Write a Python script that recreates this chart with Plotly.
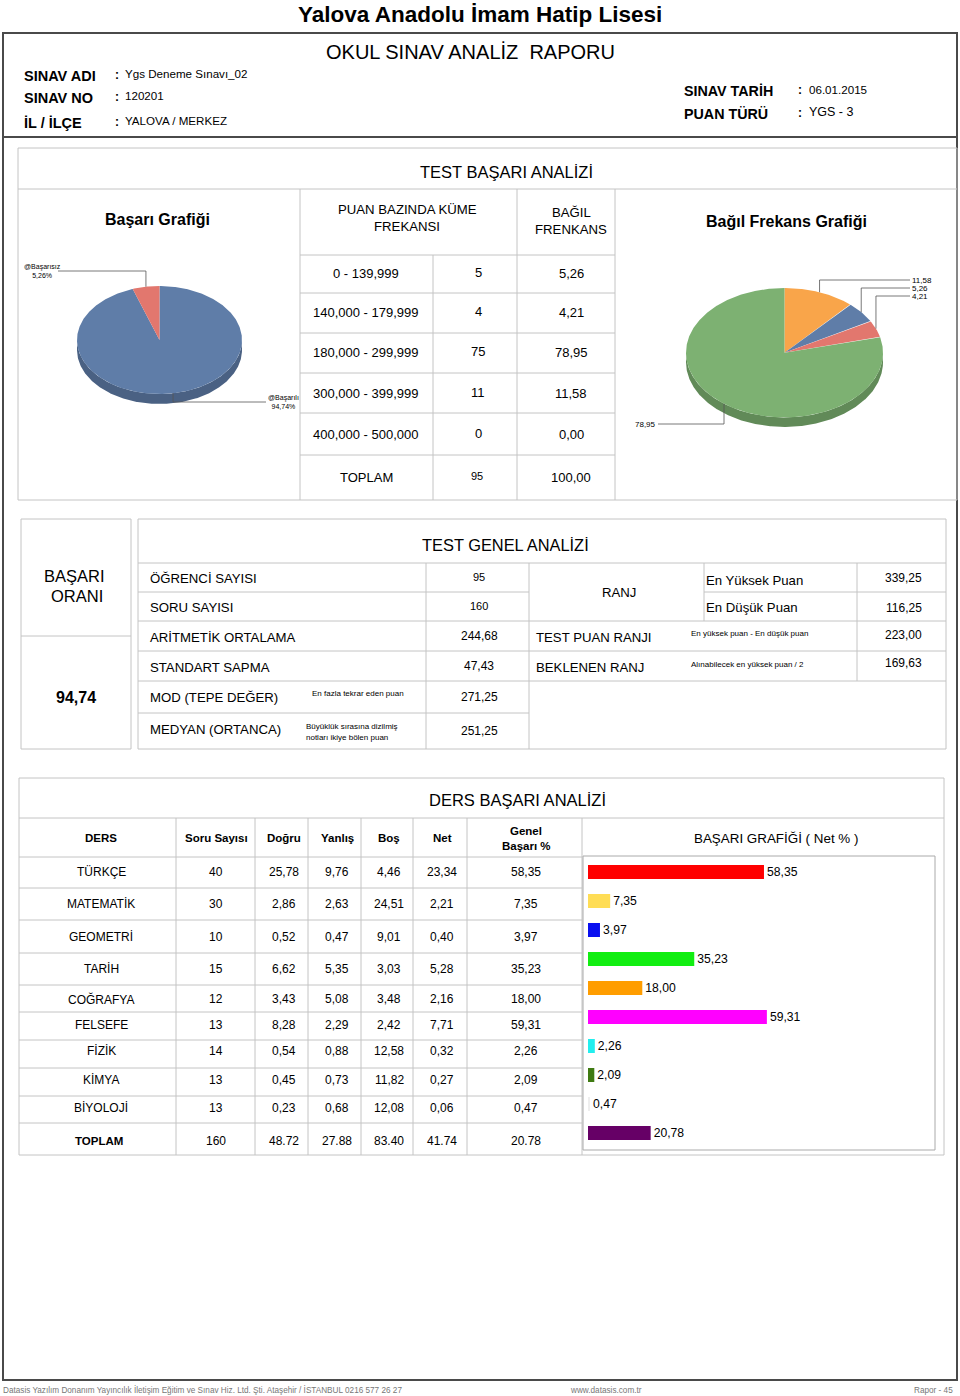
import math
import plotly.graph_objects as go

# ---------------- DATA ----------------
okul = "Yalova Anadolu İmam Hatip Lisesi"
rapor = "OKUL SINAV ANALİZ  RAPORU"
sinav_adi = "Ygs Deneme Sınavı_02"
sinav_no = "120201"
il_ilce = "YALOVA / MERKEZ"
sinav_tarih = "06.01.2015"
puan_turu = "YGS - 3"

basari_etiket = ["@Başarılı", "@Başarısız"]
basari_yuzde = [94.74, 5.26]
basari_renk = ["#5F7DA8", "#E2776E"]

araliklar = ["0 - 139,999", "140,000 - 179,999", "180,000 - 299,999",
             "300,000 - 399,999", "400,000 - 500,000"]
frekans = [5, 4, 75, 11, 0]
bagil = [5.26, 4.21, 78.95, 11.58, 0.00]
frekans_toplam = 95
bagil_toplam = 100.00
aralik_renk = ["#5F7DA8", "#E2776E", "#7DB172", "#F9A54A", "#8064A2"]
pie_sira = [3, 0, 1, 2]  # slice order clockwise from 12 o'clock

genel_etiket = ["ÖĞRENCİ SAYISI", "SORU SAYISI", "ARİTMETİK ORTALAMA",
                "STANDART SAPMA", "MOD (TEPE DEĞER)", "MEDYAN (ORTANCA)"]
genel_deger = ["95", "160", "244,68", "47,43", "271,25", "251,25"]
basari_orani = "94,74"
en_yuksek = "339,25"
en_dusuk = "116,25"
test_puan_ranji = "223,00"
beklenen_ranj = "169,63"

dersler = ["TÜRKÇE", "MATEMATİK", "GEOMETRİ", "TARİH", "COĞRAFYA",
           "FELSEFE", "FİZİK", "KİMYA", "BİYOLOJİ"]
soru = [40, 30, 10, 15, 12, 13, 14, 13, 13]
dogru = [25.78, 2.86, 0.52, 6.62, 3.43, 8.28, 0.54, 0.45, 0.23]
yanlis = [9.76, 2.63, 0.47, 5.35, 5.08, 2.29, 0.88, 0.73, 0.68]
bos = [4.46, 24.51, 9.01, 3.03, 3.48, 2.42, 12.58, 11.82, 12.08]
net = [23.34, 2.21, 0.40, 5.28, 2.16, 7.71, 0.32, 0.27, 0.06]
genel_basari = [58.35, 7.35, 3.97, 35.23, 18.00, 59.31, 2.26, 2.09, 0.47]
toplam_satir = ["160", "48.72", "27.88", "83.40", "41.74", "20.78"]
toplam_basari = 20.78
bar_renk = ["#FF0000", "#FFDD55", "#0A10F0", "#11EE11", "#FF9D00",
            "#FF00FF", "#22EEEE", "#3F7A12", "#EEEEEE", "#660066"]

# ---------------- HELPERS ----------------
FONT = "Liberation Sans, Arial, sans-serif"
W, H = 960, 1396
fig = go.Figure()
shapes = []
annots = []


def tr(v):
    return f"{v:.2f}".replace(".", ",")


def line(x0, y0, x1, y1, color="#C4C4C4", width=1):
    shapes.append(dict(type="line", xref="x2", yref="y2", x0=x0, y0=y0, x1=x1, y1=y1,
                       line=dict(color=color, width=width)))


def rect(x0, y0, x1, y1, color="#C4C4C4", width=1):
    shapes.append(dict(type="rect", xref="x2", yref="y2", x0=x0, y0=y0, x1=x1, y1=y1,
                       line=dict(color=color, width=width), fillcolor="rgba(0,0,0,0)"))


def txt(x, y, s, size=13, bold=False, anchor="center", color="#000"):
    if anchor == "left":
        x -= 2
    elif anchor == "right":
        x += 2
    annots.append(dict(xref="x2", yref="y2", x=x, y=y, text=s, showarrow=False,
                       xanchor=anchor, yanchor="middle",
                       font=dict(family=FONT, size=size, color=color,
                                 weight="bold" if bold else "normal")))


def darker(hexc, f=0.78):
    h = hexc.lstrip("#")
    r, g, b = (int(h[i:i + 2], 16) for i in (0, 2, 4))
    return f"rgb({int(r * f)},{int(g * f)},{int(b * f)})"


def ellipse_pie(cx, cy, rx, ry, depth, values, colors):
    total = sum(values)
    cum = 0
    mids = []
    spans = []
    for v in values:
        a0 = 90 - 360 * cum / total
        cum += v
        a1 = 90 - 360 * cum / total
        spans.append((a0, a1))
        mids.append((a0 + a1) / 2)
    # side band (visible lower half)
    for (a0, a1), c in zip(spans, colors):
        n = max(int(abs(a0 - a1)), 2) * 2
        ts = [a0 + (a1 - a0) * k / n for k in range(n + 1)]
        runs, cur = [], []
        for t in ts:
            if math.sin(math.radians(t)) <= 0.0001:
                cur.append(t)
            elif cur:
                runs.append(cur)
                cur = []
        if cur:
            runs.append(cur)
        for r in runs:
            if len(r) < 2:
                continue
            xs = [cx + rx * math.cos(math.radians(t)) for t in r]
            ys = [cy - ry * math.sin(math.radians(t)) for t in r]
            xs2 = xs[::-1]
            ys2 = [y + depth for y in ys[::-1]]
            fig.add_trace(go.Scatter(x=xs + xs2 + [xs[0]], y=ys + ys2 + [ys[0]],
                                     xaxis="x2", yaxis="y2", mode="lines",
                                     fill="toself", fillcolor=darker(c),
                                     line=dict(width=0), hoverinfo="skip",
                                     showlegend=False))
    # top face
    for (a0, a1), c in zip(spans, colors):
        n = max(int(abs(a0 - a1)), 2) * 2
        ts = [a0 + (a1 - a0) * k / n for k in range(n + 1)]
        xs = [cx] + [cx + rx * math.cos(math.radians(t)) for t in ts] + [cx]
        ys = [cy] + [cy - ry * math.sin(math.radians(t)) for t in ts] + [cy]
        fig.add_trace(go.Scatter(x=xs, y=ys, xaxis="x2", yaxis="y2", mode="lines",
                                 fill="toself", fillcolor=c, line=dict(width=0),
                                 hoverinfo="skip", showlegend=False))
    return [(cx + rx * math.cos(math.radians(m)), cy - ry * math.sin(math.radians(m)))
            for m in mids]


def leader(xs, ys):
    fig.add_trace(go.Scatter(x=xs, y=ys, xaxis="x2", yaxis="y2", mode="lines",
                             line=dict(color="#555", width=0.8),
                             hoverinfo="skip", showlegend=False))


# ---------------- HEADER ----------------
txt(480, 14, okul, 22.5, True)
rect(3, 33, 957, 1380, "#4A4A4A", 2)
line(3, 137, 957, 137, "#4A4A4A", 2)
txt(470, 52, rapor, 20)
for lab, val, y in [("SINAV ADI", sinav_adi, 76), ("SINAV NO", sinav_no, 98),
                    ("İL / İLÇE", il_ilce, 123)]:
    txt(24, y, lab, 14.5, True, "left")
    txt(115, y - 1, ":", 12, True, "left")
    txt(125, y - 3, val, 11.6, False, "left")
for lab, val, y in [("SINAV TARİH", sinav_tarih, 91), ("PUAN TÜRÜ", puan_turu, 114)]:
    txt(684, y, lab, 14.3, True, "left")
    txt(798, y - 1, ":", 12, True, "left")
    txt(809, y - 2, val, 11.6 if lab == "SINAV TARİH" else 12.5, False, "left")

# ---------------- SECTION 1 ----------------
rect(18, 148, 957, 500)
line(18, 189, 957, 189)
txt(506, 172, "TEST BAŞARI ANALİZİ", 16.5)
for x, y0 in [(300, 189), (517, 189), (615, 189), (433, 255)]:
    line(x, y0, x, 500)
for y in [255, 293, 333, 373, 413, 455]:
    line(300, y, 615, y)
txt(157, 219, "Başarı Grafiği", 16, True)
txt(407, 209, "PUAN BAZINDA KÜME", 13.2)
txt(407, 226, "FREKANSI", 13.2)
txt(571, 212, "BAĞIL", 13.2)
txt(571, 229, "FRENKANS", 13.2)
txt(786, 221, "Bağıl Frekans Grafiği", 16, True)
row_y = [273, 312, 352, 393, 434]
for a, f, b, y in zip(araliklar, frekans, bagil, row_y):
    txt(366, y, a, 13)
    txt(478, y - 1, str(f), 13)
    txt(571, y, tr(b), 13)
txt(366, 477, "TOPLAM", 13)
txt(477, 476, str(frekans_toplam), 11)
txt(571, 477, tr(bagil_toplam), 13)

# left pie
pts = ellipse_pie(159.5, 340, 82.5, 54, 10, basari_yuzde, basari_renk)
(bx, by), (rx_, ry_) = pts
leader([rx_, rx_, 58], [ry_, 271, 271])
txt(42, 271, f"{basari_etiket[1]}<br>{tr(basari_yuzde[1])}%", 7)
leader([bx, bx, 266], [by, 402, 402])
txt(268, 402, f"{basari_etiket[0]}<br>{tr(basari_yuzde[0])}%", 7, anchor="left")

# right pie
vals = [bagil[i] for i in pie_sira]
cols = [aralik_renk[i] for i in pie_sira]
pts = ellipse_pie(784.5, 352.7, 98.5, 64.7, 9.5, vals, cols)
lab_y = [280, 288, 296]
for k in range(3):
    px, py = pts[k]
    leader([px, px, 910], [py, lab_y[k], lab_y[k]])
    txt(912, lab_y[k], tr(vals[k]), 8, anchor="left")
px, py = pts[3]
leader([px, px, 658], [py, 424, 424])
txt(656, 424, tr(vals[3]), 8, anchor="right")

# ---------------- SECTION 2 ----------------
rect(21, 519, 131, 749)
line(21, 636, 131, 636)
txt(74, 576, "BAŞARI", 16.5)
txt(77, 596, "ORANI", 16.5)
txt(76, 697, basari_orani, 16, True)
rect(138, 519, 946, 749)
line(138, 563, 946, 563)
txt(505, 545, "TEST GENEL ANALİZİ", 16.4)
line(426, 563, 426, 749)
line(529, 563, 529, 749)
line(704, 563, 704, 621)
line(857, 563, 857, 681)
for y in [592, 621, 651, 681, 713]:
    line(138, y, 529, y)
line(704, 592, 946, 592)
for y in [621, 651, 681]:
    line(529, y, 946, y)
g_y = [578, 607, 637, 667, 697, 729]
for lab, val, y, k in zip(genel_etiket, genel_deger, g_y, range(6)):
    txt(150, y, lab, 13.2, anchor="left")
    txt(479, y - 1 if k < 4 else y + (0 if k == 4 else 2), val, 11 if k < 2 else 12)
txt(312, 693, "En fazla tekrar eden puan", 8, anchor="left")
txt(306, 726, "Büyüklük sırasına dizilmiş", 8, anchor="left")
txt(306, 737, "notları ikiye bölen puan", 8, anchor="left")
txt(619, 592, "RANJ", 13.2)
txt(706, 580, "En Yüksek Puan", 13.2, anchor="left")
txt(706, 607, "En Düşük Puan", 13.2, anchor="left")
txt(903, 578, en_yuksek, 12)
txt(904, 608, en_dusuk, 12)
txt(536, 637, "TEST PUAN RANJI", 13.2, anchor="left")
txt(691, 633, "En yüksek puan - En düşük puan", 8, anchor="left")
txt(903, 635, test_puan_ranji, 12)
txt(536, 667, "BEKLENEN RANJ", 13.2, anchor="left")
txt(691, 664, "Alınabilecek en yüksek puan / 2", 8, anchor="left")
txt(903, 663, beklenen_ranj, 12)

# ---------------- SECTION 3 ----------------
rect(19, 778, 944, 1155)
line(19, 818, 944, 818)
txt(517, 800, "DERS BAŞARI ANALİZİ", 16.5)
for x in [176, 255, 308, 361, 413, 467, 582]:
    line(x, 818, x, 1155)
for y in [857, 888, 920, 953, 985, 1012, 1040, 1068, 1096, 1123]:
    line(19, y, 582, y)
col_x = [101, 216, 284, 337, 389, 442, 526]
hdr = ["DERS", "Soru Sayısı", "Doğru", "Yanlış", "Boş", "Net"]
for x, h in zip(col_x, hdr):
    txt(x, 838, h, 11.5, True)
txt(526, 831, "Genel", 11.5, True)
txt(526, 846, "Başarı %", 11.5, True)
ders_y = [872, 904, 937, 969, 999, 1025, 1051, 1080, 1108]
for i, y in enumerate(ders_y):
    cells = [dersler[i], str(soru[i]), tr(dogru[i]), tr(yanlis[i]), tr(bos[i]),
             tr(net[i]), tr(genel_basari[i])]
    for x, c in zip(col_x, cells):
        txt(x, y, c, 12)
txt(col_x[0] - 2, 1141, "TOPLAM", 11.5, True)
for x, c in zip(col_x[1:], toplam_satir):
    txt(x, 1141, c, 12)

txt(776, 838, "BAŞARI GRAFİĞİ ( Net % )", 13.4)
rect(583, 856, 935, 1150, "#AAAAAA", 1)

bar_kat = dersler + ["TOPLAM"]
bar_val = genel_basari + [toplam_basari]
fig.add_trace(go.Bar(y=bar_kat, x=bar_val, orientation="h", xaxis="x", yaxis="y",
                     marker=dict(color=bar_renk, line=dict(width=0)), width=0.48,
                     text=[tr(v) for v in bar_val], textposition="outside",
                     textfont=dict(family=FONT, size=14, color="#000"),
                     cliponaxis=False, hoverinfo="skip", showlegend=False))

# ---------------- FOOTER ----------------
txt(3, 1390, "Datasis Yazılım Donanım Yayıncılık İletişim Eğitim ve Sınav Hiz. Ltd. Şti. "
    "Ataşehir / İSTANBUL 0216 577 26 27", 8.2, anchor="left", color="#777")
txt(606, 1390, "www.datasis.com.tr", 8.2, color="#777")
txt(953, 1390, "Rapor - 45", 8.2, anchor="right", color="#777")

fig.update_layout(
    width=W, height=H, margin=dict(l=0, r=0, t=0, b=0),
    paper_bgcolor="white", plot_bgcolor="rgba(0,0,0,0)",
    showlegend=False, bargap=0.52,
    xaxis=dict(domain=[588 / W, 889.6 / W], range=[0, 100], visible=False,
               fixedrange=True, anchor="y"),
    yaxis=dict(domain=[1 - 1147.5 / H, 1 - 857.5 / H], categoryorder="array",
               categoryarray=bar_kat, autorange="reversed", visible=False,
               fixedrange=True, anchor="x"),
    xaxis2=dict(domain=[0, 1], range=[0, W], visible=False, fixedrange=True, anchor="y2"),
    yaxis2=dict(domain=[0, 1], range=[H, 0], visible=False, fixedrange=True, anchor="x2"),
    shapes=shapes, annotations=annots,
)

fig.write_html("out.html", config={"displayModeBar": False, "responsive": False},
               post_script="document.body.style.margin='0';document.body.style.overflow='hidden';")
